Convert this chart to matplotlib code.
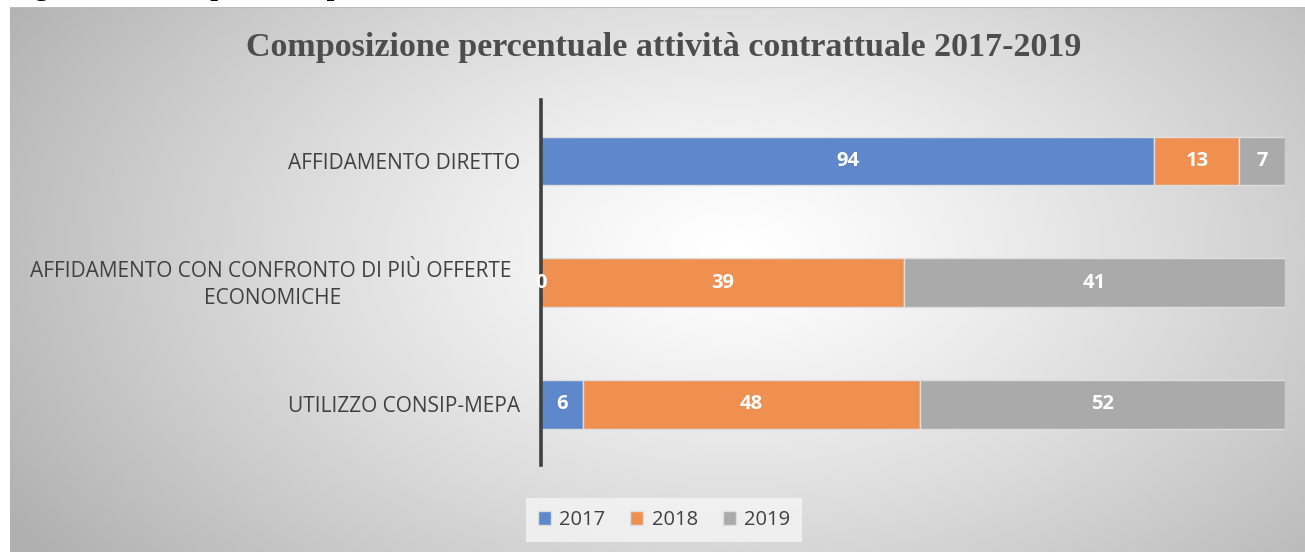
import numpy as np
import matplotlib.pyplot as plt

# dati
categorie = ["AFFIDAMENTO DIRETTO",
             "AFFIDAMENTO CON CONFRONTO DI PIÙ OFFERTE\nECONOMICHE",
             "UTILIZZO CONSIP-MEPA"]
anni = ["2017", "2018", "2019"]
v2017 = [94, 0, 6]
v2018 = [13, 39, 48]
v2019 = [7, 41, 52]
colori = ["#5f87cb", "#ef9051", "#aaaaaa"]

W, H = 1305, 552
fig = plt.figure(figsize=(W / 100, H / 100), dpi=100)

# didascalia tagliata in alto (se ne vedono solo le code)
fig.text(10 / W, 1 + 5 / H, "Figura 12 – Composizione percentuale attività contrattuale",
         family="Liberation Serif", weight="bold", fontsize=20, va="baseline",
         color="black", zorder=-5)

# sfondo con sfumatura radiale
bg = fig.add_axes([10 / W, 0, (W - 10) / W, (H - 7) / H], zorder=-1)
gx, gy = np.meshgrid(np.linspace(0, 1, 400), np.linspace(0, 1, 200))
r = np.sqrt(((gx - 0.56) / 0.55) ** 2 + ((gy - 0.45) / 0.8) ** 2)
grad = 1 - 0.25 * np.clip(r, 0, 1.2) ** 1.2
bg.imshow(grad, cmap="gray", vmin=0, vmax=1, aspect="auto",
          extent=[0, 1, 0, 1], interpolation="bilinear")
bg.axhline(1, color="#bdbdbd", lw=1.5)
bg.axis("off")

ax = fig.add_axes([541 / W, 1 - 465 / H, 744 / W, 365 / H])
ax.patch.set_alpha(0)

dati = np.array([v2017, v2018, v2019], dtype=float)
tot = dati.sum(axis=0)
perc = dati / tot * 100
y = np.arange(len(categorie))
left = np.zeros(len(categorie))
for i, anno in enumerate(anni):
    ax.barh(y, perc[i], left=left, height=0.4, color=colori[i],
            edgecolor="#dedede", linewidth=1, label=anno, zorder=2)
    for j in range(len(categorie)):
        ax.text(left[j] + perc[i][j] / 2, y[j], str(int(dati[i][j])),
                ha="center", va="center", color="white", fontsize=14.5,
                weight="bold", family="Open Sans", zorder=4)
    left += perc[i]

ax.set_xlim(0, 100)
ax.set_ylim(2.5, -0.5)
ax.set_xticks([])
ax.set_yticks(y)
ax.set_yticklabels([categorie[0], "", categorie[2]], family="Open Sans",
                   fontsize=15, color="#404040")
ax.tick_params(axis="y", length=0, pad=15)
# etichetta su due righe
righe = categorie[1].split("\n")
ax.text(-0.039, 0.5 + 0.030, righe[0], transform=ax.transAxes, ha="right",
        va="center", family="Open Sans", fontsize=15, color="#404040")
ax.text(-0.268, 0.5 - 0.045, righe[1], transform=ax.transAxes, ha="right",
        va="center", family="Open Sans", fontsize=15, color="#404040")
for s in ["top", "right", "bottom"]:
    ax.spines[s].set_visible(False)
ax.spines["left"].set_linewidth(2.6)
ax.spines["left"].set_color("#404040")
ax.spines["left"].set_zorder(3)

fig.text(664 / W, 1 - 48 / H, "Composizione percentuale attività contrattuale 2017-2019",
         ha="center", va="center", family="Liberation Serif", weight="bold",
         fontsize=24.5, color="#4d4d4d")

leg = fig.legend(loc="center", bbox_to_anchor=(664 / W, 1 - 520 / H), ncol=3,
                 frameon=True, fancybox=False, handlelength=0.65, handleheight=0.65,
                 handletextpad=0.4, columnspacing=1.25, borderpad=0.6,
                 prop={"family": "Open Sans", "size": 14.5})
leg.get_frame().set_facecolor("#f5f5f5")
leg.get_frame().set_edgecolor("none")
for t in leg.get_texts():
    t.set_color("#404040")

fig.savefig("out.png", dpi=100)
